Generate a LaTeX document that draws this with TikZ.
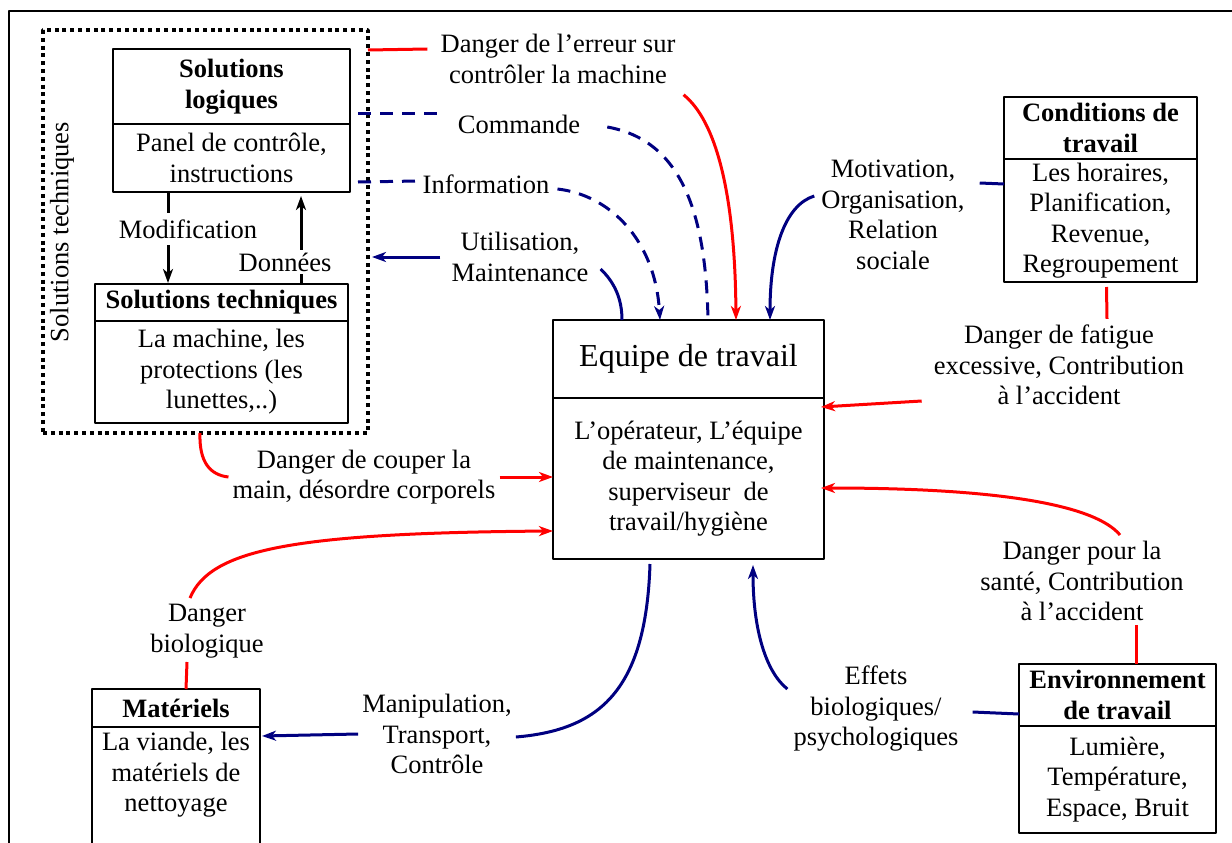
\documentclass[tikz,border=0pt]{standalone}
\usepackage{fontspec}
\setmainfont{Liberation Serif}
\usetikzlibrary{arrows.meta,calc}
\definecolor{navy}{RGB}{0,0,128}
\newcommand{\diagfont}{\fontsize{26.5}{30.5}\selectfont}
\tikzset{
  cell/.style={draw, line width=2.5pt, align=center, inner sep=2pt, outer sep=0pt},
  hcell/.style={cell, font=\diagfont\bfseries},
  lbl/.style={align=center, inner sep=4pt},
  redl/.style={red, line width=3pt},
  navyl/.style={navy, line width=3pt},
  cmdl/.style={navyl, dash pattern=on 13pt off 9pt},
  blkl/.style={line width=3pt},
}

\begin{document}
\begin{tikzpicture}[x=1pt, y=-1pt, font=\diagfont, line join=round, >={Stealth[length=14pt,width=10pt,inset=4pt]}]
\useasboundingbox (0,0) rectangle (1232,843);
% frame
\draw[line width=2.5pt] (9,860) -- (9,11) -- (1240,11);

% solutions group
\node[draw, line width=3.5pt, dash pattern=on 4pt off 3.8pt, minimum width=325pt, minimum height=403pt, outer sep=0pt] (tech) at (205.5,231.5) {};
\node[rotate=90] (techlbl) at (62,232) {Solutions techniques};
\node[hcell, minimum width=237pt, minimum height=75pt] (slh) at (231.5,86.5) {Solutions\\logiques};
\node[cell, minimum width=237pt, minimum height=68pt] (slb) at (231.5,158) {Panel de contrôle,\\instructions};
\node[hcell, minimum width=253pt, minimum height=37pt] (sth) at (221.5,302.5) {Solutions techniques};
\node[cell, minimum width=253pt, minimum height=102pt] (stb) at (221.5,372) {La machine, les\\protections (les\\lunettes,..)};
\draw[blkl, ->] ([xshift=55pt]slb.south west) -- ([xshift=73pt, yshift=1pt]sth.north west);
\draw[blkl, ->] ([xshift=206pt]sth.north west) -- ([xshift=188pt, yshift=-4pt]slb.south west);
\node[lbl, fill=white, inner xsep=2pt, inner ysep=7pt] (modif) at (188,229) {Modification};
\node[lbl, fill=white, inner xsep=2pt, inner ysep=3pt] (donn) at (285,262) {Données};

% other boxes
\node[hcell, minimum width=193pt, minimum height=62pt] (cth) at (1100.5,128) {Conditions de\\travail};
\node[cell, minimum width=193pt, minimum height=123pt] (ctb) at (1100.5,220.5) {Les horaires,\\Planification,\\Revenue,\\Regroupement};
\node[cell, font=\fontsize{32}{38}\selectfont, minimum width=271pt, minimum height=78pt] (eqh) at (688.5,359) {Equipe de travail};
\node[cell, minimum width=271pt, minimum height=161pt] (eqb) at (688.5,478.5) {L’opérateur, L’équipe\\de maintenance,\\superviseur \ de\\travail/hygiène};
\node[hcell, minimum width=197pt, minimum height=62pt] (envh) at (1117.5,695) {Environnement\\de travail};
\node[cell, minimum width=197pt, minimum height=107pt] (envb) at (1117.5,779.5) {Lumière,\\Température,\\Espace, Bruit};
\node[hcell, minimum width=168pt, minimum height=38pt] (math) at (176,708) {Matériels};
\node[cell, minimum width=168pt, minimum height=140pt, anchor=north] (matb) at (math.south) {};
\node[lbl, anchor=north] (matt) at ([yshift=-1pt]matb.north) {La viande, les\\matériels de\\nettoyage};

% labels
\node[lbl] (err) at (558,59) {Danger de l’erreur sur\\contrôler la machine};
\node[lbl] (cmd) at (519,124) {Commande};
\node[lbl] (info) at (486,184) {Information};
\node[lbl] (util) at (520,257) {Utilisation,\\Maintenance};
\node[lbl] (mot) at (893,215) {Motivation,\\Organisation,\\Relation\\sociale};
\node[lbl] (fat) at (1059,365) {Danger de fatigue\\excessive, Contribution\\à l’accident};
\node[lbl] (coup) at (364,477) {Danger de couper la\\main, désordre corporels};
\node[lbl] (bio) at (207,631) {Danger\\biologique};
\node[lbl] (manip) at (437,734) {Manipulation,\\Transport,\\Contrôle};
\node[lbl] (eff) at (876,709) {Effets\\biologiques/\\psychologiques};
\node[lbl] (sante) at (1082,581) {Danger pour la\\santé, Contribution\\à l’accident};

% error on control
\draw[redl] ([yshift=-20pt]tech.north east) -- ([xshift=-9pt, yshift=10pt]err.west);
\draw[redl, ->] ([xshift=4pt, yshift=-7pt]err.south east) .. controls (715,120) and (735,190) .. ([xshift=183pt]eqh.north west);

% command and information
\draw[cmdl] ([xshift=8pt, yshift=11pt]slh.south east) -- ([xshift=-14pt, yshift=11pt]cmd.west);
\draw[cmdl] ([xshift=23pt, yshift=-3pt]cmd.east) .. controls (680,140) and (706,210) .. ([xshift=155pt]eqh.north west);
\draw[cmdl] ([xshift=8pt, yshift=10pt]slb.south east) -- ([yshift=3pt]info.west);
\draw[cmdl, ->] ([xshift=4pt, yshift=-5pt]info.east) .. controls (610,195) and (655,240) .. ([xshift=107pt]eqh.north west);

% use and maintenance
\draw[navyl, ->] ([xshift=-7pt]util.west) -- ($(util.west -| tech.east)+(4,0)$);
\draw[navyl] ([xshift=8pt, yshift=-12pt]util.east) .. controls (614,282) and (622,298) .. ([xshift=69pt]eqh.north west);

% working conditions
\draw[navyl] ([yshift=-25pt]ctb.north west) -- ([xshift=11pt, yshift=32pt]mot.east);
\draw[navyl, ->] ([xshift=-3pt, yshift=19pt]mot.west) .. controls (785,205) and (770,250) .. ([xshift=217pt]eqh.north west);
\draw[redl] ([xshift=6pt, yshift=-5pt]ctb.south) -- ([xshift=48pt, yshift=2pt]fat.north);
\draw[redl, ->] ([xshift=-8pt, yshift=-36pt]fat.west) -- ([xshift=-3pt, yshift=-9pt]eqb.north east);

% environment
\draw[redl] ([xshift=18.5pt]envh.north) -- ([xshift=54pt]sante.south);
\draw[redl, ->] ([xshift=38pt, yshift=2pt]sante.north) .. controls (1095,505) and (1000,488) .. ([xshift=-3pt, yshift=-9.5pt]eqb.east);
\draw[navyl] ([yshift=12pt]envh.south west) -- ([xshift=10pt, yshift=-3pt]eff.east);
\draw[navyl, ->] ([xshift=-2pt, yshift=20pt]eff.west) .. controls (766,672) and (753,630) .. ([xshift=64.5pt, yshift=-6pt]eqb.south);

% materials
\draw[navyl, ->] (manip.west) -- ([xshift=2pt, yshift=-9pt]matb.north east);
\draw[navyl] ([yshift=-3pt]manip.east) .. controls (600,730) and (646,690) .. ([xshift=-38.5pt, yshift=-5pt]eqb.south);
\draw[redl] ([xshift=-20pt]bio.south) -- ([xshift=10pt]math.north);
\draw[redl, ->] ([xshift=-17pt, yshift=2pt]bio.north) .. controls (210,550) and (290,533) .. ([yshift=-52.5pt]eqb.west);

% cutting hazard
\draw[redl] ([xshift=-5.5pt]tech.south) .. controls (199,462) and (210,475) .. (coup.west);
\draw[redl, ->] (coup.east) -- (coup.east -| eqb.west);
\end{tikzpicture}
\end{document}
